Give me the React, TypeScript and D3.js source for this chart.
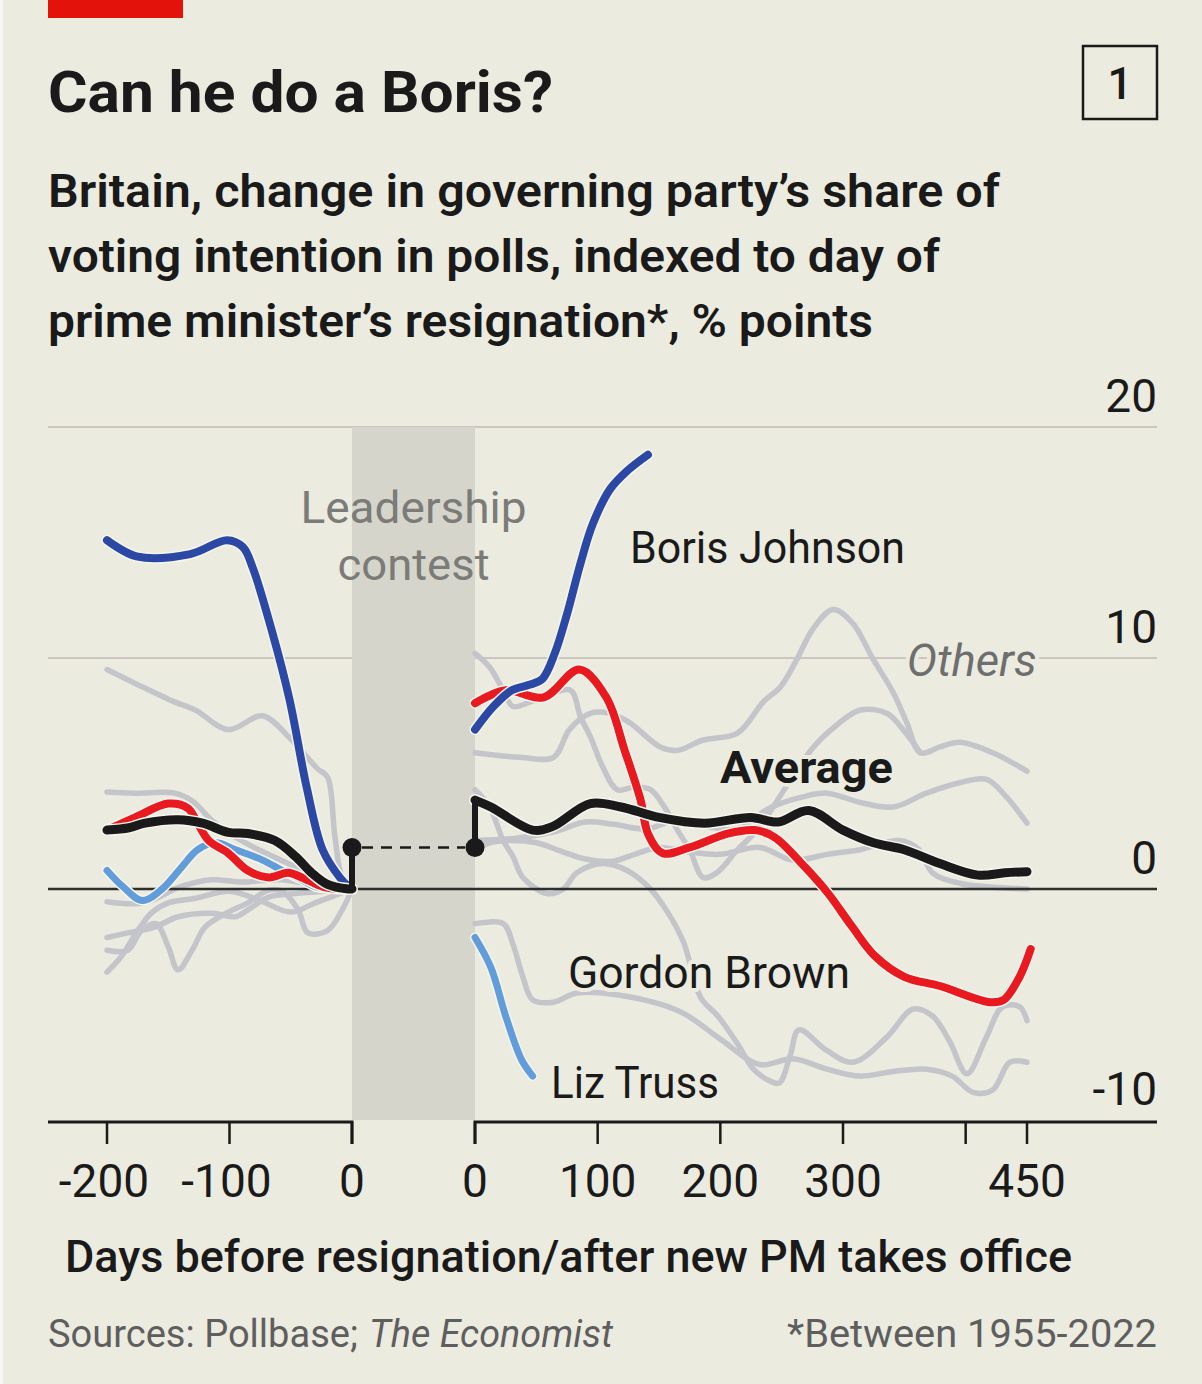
import React from 'react';
import * as d3 from 'd3';

type P = [number, number];

// ---------- data (days, % points) ----------
const borisBefore: P[] = [[-200,15.1],[-176,14.4],[-132,14.5],[-102,15.1],[-89,14.8],[-81,13.9],[-65,11.1],[-51,8.2],[-37,4.4],[-24,1.7],[-10,0.5],[-3,0.1]];
const borisAfter: P[] = [[0,6.9],[15,7.9],[30,8.6],[45,8.85],[55,9.1],[65,10.2],[75,11.9],[86,14.1],[96,15.8],[110,17.3],[124,18.1],[141,18.8]];

const brownBefore: P[] = [[-200,2.55],[-177,3.1],[-150,3.7],[-134,3.5],[-126,2.85],[-117,2.1],[-101,1.55],[-85,0.8],[-68,0.5],[-52,0.7],[-41,0.5],[-24,0.1],[-11,0],[0,0]];
const brownAfter: P[] = [[0,8.04],[25,8.6],[56,8.3],[85,9.5],[107,8.3],[122,6.0],[135,3.85],[141,2.4],[153,1.55],[175,1.8],[206,2.4],[228,2.55],[244,2.25],[269,0.95],[288,-0.2],[307,-1.6],[326,-2.9],[350,-3.8],[379,-4.2],[420,-4.9],[431,-4.8],[444,-3.8],[453,-2.6]];

const trussBefore: P[] = [[-200,0.8],[-187,0.1],[-171,-0.5],[-155,0],[-139,0.95],[-126,1.7],[-111,2.0],[-95,1.7],[-73,1.25],[-57,0.8],[-41,0.4],[-30,0.1],[-18,0]];
const trussAfter: P[] = [[0,-2.1],[13,-3.4],[25,-5.5],[38,-7.4],[47,-8.1]];

const avgBefore: P[] = [[-200,2.55],[-182,2.65],[-169,2.85],[-142,3.0],[-122,2.85],[-101,2.45],[-85,2.4],[-63,2.1],[-46,1.4],[-33,0.7],[-20,0.2],[-3,0],[0,0]];
const avgAfter: P[] = [[0,3.85],[13,3.55],[47,2.55],[63,2.7],[94,3.7],[119,3.55],[150,3.1],[187,2.85],[225,3.1],[247,2.9],[272,3.4],[300,2.55],[325,2.0],[350,1.7],[379,1.1],[410,0.6],[432,0.7],[450,0.75]];
const avgContest = 1.8;

const othersBefore: P[][] = [
  [[-200,9.5],[-177,8.9],[-145,8.1],[-128,7.75],[-101,6.9],[-73,7.5],[-52,6.6],[-40,5.9],[-28,5.2],[-20,4.85],[-14,2.3],[-8,0.5],[0,0]],
  [[-200,4.2],[-177,4.15],[-145,4.15],[-130,3.8],[-115,3.0],[-100,2.4],[-80,1.8],[-60,1.3],[-40,0.8],[-20,0.3],[0,0]],
  [[-200,-0.55],[-170,-0.6],[-140,0.1],[-115,0.4],[-90,0.3],[-57,0.4],[-25,0.1],[0,0]],
  [[-200,-2.1],[-183,-1.9],[-161,-1.65],[-142,-1.2],[-114,-1.05],[-95,-1.2],[-85,-0.9],[-68,-0.35],[-46,-0.2],[-10,-0.05],[0,0]],
  [[-200,-3.6],[-188,-2.9],[-175,-1.8],[-163,-1.0],[-150,-0.6],[-128,-0.4],[-100,-0.1],[-75,-0.5],[-50,-1.0],[-30,-0.6],[0,0]],
  [[-200,-2.65],[-183,-2.65],[-172,-1.8],[-160,-1.5],[-150,-2.5],[-142,-3.5],[-130,-2.6],[-120,-1.65],[-101,-1.0],[-85,-0.6],[-68,-0.05],[-57,-0.1],[-44,-0.9],[-36,-1.9],[-20,-1.8],[-8,-0.9],[0,0]],
];

const othersAfter: P[][] = [
  [[0,5.9],[37,5.7],[64,5.7],[77,6.9],[94,7.6],[110,7.6],[126,7.2],[151,6.15],[165,6.0],[186,6.45],[214,6.75],[235,8.1],[249,8.75],[262,9.9],[276,11.3],[292,12.1],[308,11.5],[324,10.0],[341,8.5],[352,7.2],[363,5.9],[379,6.15],[395,6.35],[422,5.9],[450,5.1]],
  [[0,10.2],[12,9.6],[23,8.6],[31,7.9],[45,8.1],[60,8.4],[78,8.6],[86,7.45],[94,6.6],[104,5.3],[116,4.3],[129,4.4],[143,4.3],[155,3.5],[165,2.55],[175,1.7],[186,0.5],[197,0.7],[214,1.7],[230,2.55],[257,4.7],[276,6.15],[295,7.1],[314,7.75],[336,7.6],[349,6.9],[363,5.9]],
  [[0,4.3],[12,3.55],[23,2.1],[31,1.4],[39,0.5],[59,-0.2],[72,0],[83,0.7],[104,1.1],[124,0.8],[143,0],[157,-1.0],[170,-2.3],[184,-4.7],[198,-5.5],[214,-6.7],[227,-7.8],[240,-8.3],[248,-8.4],[257,-7.2],[264,-6.1],[287,-7.0],[308,-7.5],[336,-6.4],[357,-5.2],[373,-5.5],[387,-6.6],[401,-8.0],[417,-6.4],[430,-5.1],[444,-5.1],[450,-5.7]],
  [[0,-1.5],[23,-1.5],[31,-2.4],[39,-3.8],[47,-4.8],[64,-4.9],[83,-4.5],[118,-4.6],[167,-5.3],[200,-6.5],[232,-7.6],[259,-7.35],[287,-7.8],[314,-8.1],[341,-7.9],[368,-7.8],[389,-8.1],[406,-8.8],[422,-8.7],[436,-7.5],[450,-7.5]],
  [[0,2.1],[34,2.2],[66,2.5],[90,2.9],[113,2.8],[140,2.6],[165,3.0],[190,2.7],[214,2.6],[240,3.5],[268,4.0],[287,4.15],[314,3.75],[341,3.55],[368,4.15],[395,4.6],[417,4.75],[433,4.0],[450,2.85]],
  [[0,1.7],[12,2.0],[29,2.1],[50,2.0],[72,1.6],[90,1.3],[112,1.2],[130,1.5],[150,1.8],[175,1.6],[200,1.5],[232,1.8],[259,1.25],[287,1.5],[314,1.7],[346,2.1],[362,1.7],[373,0.7],[395,0.25],[450,0]],
];

const yTicks = [20, 10, 0, -10];
const xTicksBefore = [-200, -100, 0];
const xTicksAfter = [0, 100, 200, 300, 400, 450];
const xLabelsAfter = [0, 100, 200, 300, 450];

const subtitleLines = [
  'Britain, change in governing party\u2019s share of',
  'voting intention in polls, indexed to day of',
  'prime minister\u2019s resignation*, % points',
];
const subtitleWidths = [952, 892, 825];

// ---------- styles ----------
const BG = '#ECEBDF';
const RED = '#E8191F';
const BLUE = '#2B48A5';
const LIGHTBLUE = '#619DDA';
const GREY = '#C3C5CA';
const INK = '#1A1A1A';
const FONT = 'Roboto, "Noto Sans", sans-serif';

export default function App() {
  const y = d3.scaleLinear().domain([-10, 20]).range([1120, 427]);
  const xL = d3.scaleLinear().domain([-200, 0]).range([107, 352]);
  const xR = d3.scaleLinear().domain([0, 450]).range([475, 1027]);
  const curve = d3.curveCatmullRom.alpha(0.5);
  const lineL = d3.line<P>().x(d => xL(d[0])).y(d => y(d[1])).curve(curve);
  const lineR = d3.line<P>().x(d => xR(d[0])).y(d => y(d[1])).curve(curve);

  const halo = (path: string | null, key: string, w: number) => (
    <path key={key} d={path || ''} fill="none" stroke="#F6F5EE" strokeWidth={w + 3} strokeLinecap="round" strokeLinejoin="round" />
  );
  const stroke = (path: string | null, key: string, color: string, w: number) => (
    <path key={key} d={path || ''} fill="none" stroke={color} strokeWidth={w} strokeLinecap="round" strokeLinejoin="round" />
  );

  const left = 48, right = 1157;
  const axisY = y(-10) + 2;

  const labelStyle = { fontFamily: FONT, fontSize: 44, fill: INK } as const;
  const haloText = { stroke: BG, strokeWidth: 8, paintOrder: 'stroke' as const, strokeLinejoin: 'round' as const };

  return (
    <svg width={1202} height={1384} style={{ position: 'absolute', left: 0, top: 0, display: 'block' }}>
      <rect x={0} y={0} width={1202} height={1384} fill={BG} />
      <rect x={0} y={0} width={3} height={1384} fill="#F7F7F2" />
      <rect x={48} y={0} width={135} height={18} fill="#E3120B" />

      {/* title */}
      <text x={48} y={112} fontFamily={FONT} fontWeight={700} fontSize={57} fill={INK} textLength={505} lengthAdjust="spacingAndGlyphs">Can he do a Boris?</text>
      {subtitleLines.map((t, i) => (
        <text key={t} x={48} y={207 + i * 65} fontFamily={FONT} fontWeight={600} fontSize={46} fill={INK} textLength={subtitleWidths[i]} lengthAdjust="spacingAndGlyphs">{t}</text>
      ))}
      <rect x={1083} y={46} width={74} height={73} fill="none" stroke={INK} strokeWidth={2.5} />
      <text x={1120} y={99} textAnchor="middle" fontFamily={FONT} fontWeight={500} fontSize={44} fill={INK}>1</text>

      {/* gridlines */}
      {yTicks.filter(t => t > -10 && t !== 0).map(t => (
        <line key={'g' + t} x1={left} x2={right} y1={y(t)} y2={y(t)} stroke="#CBC6BF" strokeWidth={2} />
      ))}
      {/* leadership contest shade */}
      <rect x={xL(0)} y={y(20)} width={xR(0) - xL(0)} height={y(-10) - y(20)} fill="#D6D5CC" />
      <text x={(xL(0) + xR(0)) / 2} y={523} textAnchor="middle" fontFamily={FONT} fontSize={44} fill="#7B7B78" textLength={226} lengthAdjust="spacingAndGlyphs">Leadership</text>
      <text x={(xL(0) + xR(0)) / 2} y={580} textAnchor="middle" fontFamily={FONT} fontSize={44} fill="#7B7B78" textLength={152} lengthAdjust="spacingAndGlyphs">contest</text>

      {/* y tick labels */}
      {yTicks.map(t => (
        <text key={'yl' + t} x={right} y={y(t) - 15} textAnchor="end" fontFamily={FONT} fontSize={46} fill={INK}>{t}</text>
      ))}

      {/* others */}
      {othersBefore.map((s, i) => stroke(lineL(s), 'ob' + i, GREY, 5.5))}
      {othersAfter.map((s, i) => stroke(lineR(s), 'oa' + i, GREY, 5.5))}

      {/* zero line */}
      <line x1={left} x2={right} y1={y(0)} y2={y(0)} stroke="#2E2E2E" strokeWidth={2.5} />

      {/* Truss */}
      {halo(lineL(trussBefore), 'tbh', 7)}
      {stroke(lineL(trussBefore), 'tb', LIGHTBLUE, 7)}
      {halo(lineR(trussAfter), 'tah', 7)}
      {stroke(lineR(trussAfter), 'ta', LIGHTBLUE, 7)}
      {/* Brown */}
      {halo(lineL(brownBefore), 'rbh', 8)}
      {stroke(lineL(brownBefore), 'rb', RED, 8)}
      {halo(lineR(brownAfter), 'rah', 8)}
      {stroke(lineR(brownAfter), 'ra', RED, 8)}
      {/* Boris */}
      {halo(lineL(borisBefore), 'bbh', 8)}
      {stroke(lineL(borisBefore), 'bb', BLUE, 8)}
      {halo(lineR(borisAfter), 'bah', 8)}
      {stroke(lineR(borisAfter), 'ba', BLUE, 8)}

      {/* Average */}
      {halo(lineL(avgBefore), 'abh', 9)}
      {stroke(lineL(avgBefore), 'ab', INK, 9)}
      {halo(lineR(avgAfter), 'aah', 9)}
      {stroke(lineR(avgAfter), 'aa', INK, 9)}
      <line x1={xL(0)} x2={xL(0)} y1={y(avgBefore[avgBefore.length - 1][1])} y2={y(avgContest)} stroke={INK} strokeWidth={6} strokeLinecap="round" />
      <line x1={xR(0)} x2={xR(0)} y1={y(avgAfter[0][1])} y2={y(avgContest)} stroke={INK} strokeWidth={6} strokeLinecap="round" />
      <line x1={xL(0) + 10} x2={xR(0) - 10} y1={y(avgContest)} y2={y(avgContest)} stroke={INK} strokeWidth={2.5} strokeDasharray="11 8" />
      <circle cx={xL(0)} cy={y(avgContest)} r={9.5} fill={INK} />
      <circle cx={xR(0)} cy={y(avgContest)} r={9.5} fill={INK} />

      {/* labels */}
      <text x={xR(126.4)} y={y(14.1)} {...labelStyle} textLength={275} lengthAdjust="spacingAndGlyphs">Boris Johnson</text>
      <text x={xR(75.8)} y={y(-4.29)} {...labelStyle} {...haloText} textLength={282} lengthAdjust="spacingAndGlyphs">Gordon Brown</text>
      <text x={xR(62)} y={y(-9.05)} {...labelStyle} {...haloText} textLength={168} lengthAdjust="spacingAndGlyphs">Liz Truss</text>
      <text x={xR(199.7)} y={y(4.59)} {...labelStyle} {...haloText} fontWeight={700} textLength={173} lengthAdjust="spacingAndGlyphs">Average</text>
      <text x={xR(352)} y={y(9.2)} {...labelStyle} {...haloText} fill="#6E6E6E" fontStyle="italic" textLength={130} lengthAdjust="spacingAndGlyphs">Others</text>

      {/* x axis */}
      <path d={`M${left},${axisY}H${xL(0)}V${axisY + 22}`} fill="none" stroke={INK} strokeWidth={3} />
      <path d={`M${xR(0)},${axisY + 22}V${axisY}H${right}`} fill="none" stroke={INK} strokeWidth={3} />
      {xTicksBefore.map(t => (
        <line key={'xb' + t} x1={xL(t)} x2={xL(t)} y1={axisY} y2={axisY + 22} stroke={INK} strokeWidth={2.5} />
      ))}
      {xTicksAfter.map(t => (
        <line key={'xa' + t} x1={xR(t)} x2={xR(t)} y1={axisY} y2={axisY + 22} stroke={INK} strokeWidth={2.5} />
      ))}
      {xTicksBefore.map(t => (
        <text key={'xbl' + t} x={xL(t) - (t < 0 ? 3 : 0)} y={1197} textAnchor="middle" fontFamily={FONT} fontSize={46} fill={INK}>{t}</text>
      ))}
      {xLabelsAfter.map(t => (
        <text key={'xal' + t} x={xR(t)} y={1197} textAnchor="middle" fontFamily={FONT} fontSize={46} fill={INK}>{t}</text>
      ))}
      <text x={65} y={1272} fontFamily={FONT} fontWeight={500} fontSize={45} fill={INK} textLength={1007} lengthAdjust="spacingAndGlyphs">Days before resignation/after new PM takes office</text>

      {/* footer */}
      <text x={48} y={1347} fontFamily={FONT} fontSize={38} fill="#5E5E5E" textLength={310} lengthAdjust="spacingAndGlyphs">Sources: Pollbase;</text>
      <text x={369} y={1347} fontFamily={FONT} fontSize={38} fontStyle="italic" fill="#5E5E5E" textLength={244} lengthAdjust="spacingAndGlyphs">The Economist</text>
      <text x={right} y={1347} textAnchor="end" fontFamily={FONT} fontSize={38} fill="#5E5E5E" textLength={370} lengthAdjust="spacingAndGlyphs">*Between 1955-2022</text>
    </svg>
  );
}
